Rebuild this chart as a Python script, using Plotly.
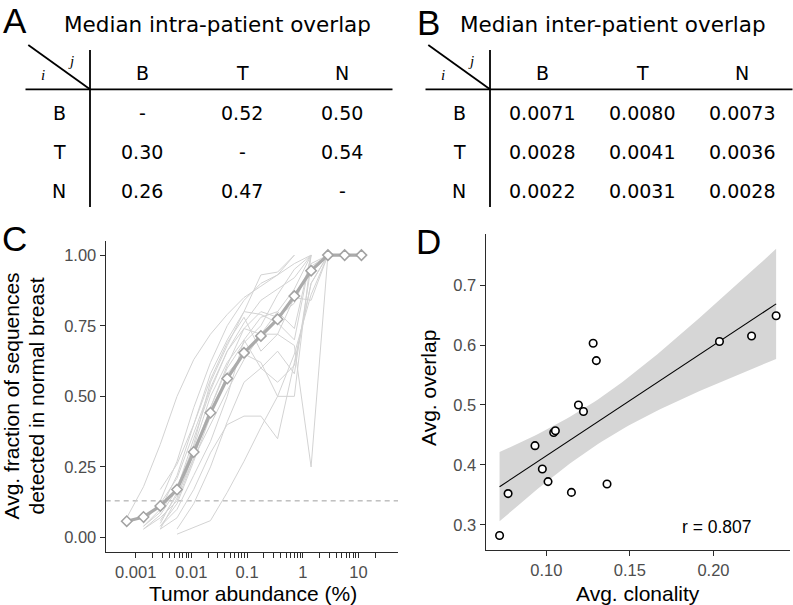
import numpy as np
import plotly.graph_objects as go

W, H = 793, 605

# ---------------- Data ----------------
# Tables A and B
tbl_rows = ["B", "T", "N"]
tbl_cols = ["B", "T", "N"]
intra_vals = [["-", "0.52", "0.50"],
              ["0.30", "-", "0.54"],
              ["0.26", "0.47", "-"]]
inter_vals = [["0.0071", "0.0080", "0.0073"],
              ["0.0028", "0.0041", "0.0036"],
              ["0.0022", "0.0031", "0.0028"]]
title_A = "Median intra-patient overlap"
title_B = "Median inter-patient overlap"

# Panel C: tumor abundance bins (%) and fractions
abund_bins = [0.00069, 0.00138, 0.00276, 0.00552, 0.011, 0.022, 0.044, 0.088,
              0.177, 0.353, 0.706, 1.41, 2.83, 5.65, 11.3]
mean_frac = [0.058, 0.073, 0.112, 0.170, 0.303, 0.442, 0.563, 0.654,
             0.714, 0.773, 0.855, 0.945, 1.0, 1.0, 1.0]
N = None
patient_frac = [
    [0.07, 0.18, 0.33, 0.50, 0.63, 0.72, 0.79, 0.85, 0.89, 0.93, 0.97, 1.0],
    [N, 0.05, 0.13, 0.27, 0.46, 0.62, 0.75, 0.84, 0.90, 0.93, 1.0],
    [N, 0.04, 0.10, 0.22, 0.40, 0.58, 0.70, 0.80, 0.93, 0.94, 1.0],
    [N, 0.03, 0.08, 0.17, 0.35, 0.52, 0.66, 0.76, 0.84, 0.88, 0.92, 1.0],
    [N, 0.04, 0.09, 0.18, 0.32, 0.50, 0.62, 0.70, 0.78, 0.80, 0.74, 1.0],
    [N, N, 0.03, 0.14, 0.30, 0.46, 0.61, 0.74, 0.80, 0.78, 0.83, 0.97, 1.0],
    [N, N, 0.05, 0.16, 0.33, 0.55, 0.68, 0.80, 0.79, 0.76, 0.70, 1.0],
    [N, N, 0.04, 0.12, 0.27, 0.43, 0.58, 0.65, 0.62, 0.50, 0.50, 1.0],
    [N, N, 0.06, 0.15, 0.28, 0.40, 0.52, 0.63, 0.72, 0.72, 0.68, 0.25, 1.0],
    [N, N, 0.03, 0.07, 0.17, 0.30, 0.40, 0.43, 0.43, 0.35, 0.62, 0.90, 1.0],
    [N, N, N, 0.012, 0.035, 0.06, 0.16, 0.27, 0.39, 0.50, 0.65, 0.86, 1.0],
    [N, N, 0.04, 0.10, 0.22, 0.34, 0.50, 0.70, 0.60, 0.55, 0.61, 0.90, 1.0],
    [N, 0.03, 0.07, 0.13, 0.28, 0.46, 0.60, 0.69, 0.75, 0.86, 0.95, 1.0],
    [N, N, 0.17, 0.26, 0.40, 0.56, 0.69, 0.78, 0.66, 0.72, 0.85, 0.84, 1.0],
    [N, N, N, 0.03, 0.12, 0.25, 0.41, 0.55, 0.60, 0.66, 0.58, 0.96, 1.0],
    [N, 0.06, 0.12, 0.21, 0.37, 0.53, 0.66, 0.74, 0.72, 0.80, 0.88, 1.0],
]
threshold = 0.13
c_major_ticks = [0.001, 0.01, 0.1, 1, 10]
c_major_labels = ["0.001", "0.01", "0.1", "1", "10"]
c_y_ticks = [0, 0.25, 0.5, 0.75, 1.0]
c_y_labels = ["0.00", "0.25", "0.50", "0.75", "1.00"]

# Panel D: clonality vs overlap
clonality = [0.0720, 0.0771, 0.0932, 0.0976, 0.1010, 0.1044, 0.1054, 0.1150,
             0.1192, 0.1222, 0.1280, 0.1299, 0.1363, 0.2036, 0.2228, 0.2375]
overlap = [0.282, 0.352, 0.432, 0.393, 0.372, 0.454, 0.457, 0.354,
           0.500, 0.489, 0.603, 0.574, 0.368, 0.606, 0.615, 0.649]
r_label = "r = 0.807"
d_x_ticks = [0.10, 0.15, 0.20]
d_x_labels = ["0.10", "0.15", "0.20"]
d_y_ticks = [0.3, 0.4, 0.5, 0.6, 0.7]
d_y_labels = ["0.3", "0.4", "0.5", "0.6", "0.7"]

# ---------------- Helpers ----------------
def px(x):
    return x / W


def py(y):
    return 1 - y / H


TFONT = "DejaVu Sans"
AFONT = "Liberation Sans, Arial, Helvetica"

fig = go.Figure()

# ---------------- Panel C ----------------
for series in patient_frac:
    fig.add_trace(go.Scatter(
        x=abund_bins[:len(series)], y=series, mode="lines",
        line=dict(color="#d3d3d3", width=1), connectgaps=False,
        hoverinfo="skip", showlegend=False, xaxis="x", yaxis="y"))

fig.add_trace(go.Scatter(
    x=abund_bins, y=mean_frac, mode="lines+markers",
    line=dict(color="#ababab", width=3.2),
    marker=dict(symbol="diamond", size=8, color="white",
                line=dict(color="#a3a3a3", width=1.5)),
    showlegend=False, xaxis="x", yaxis="y"))

# ---------------- Panel D ----------------
xs = np.array(clonality)
ys = np.array(overlap)
n = len(xs)
slope, intercept = np.polyfit(xs, ys, 1)
resid = ys - (slope * xs + intercept)
s = np.sqrt(np.sum(resid ** 2) / (n - 2))
sxx = np.sum((xs - xs.mean()) ** 2)
tcrit = 2.145  # t(0.975, df=14)
grid = np.linspace(xs.min(), xs.max(), 80)
fit = slope * grid + intercept
se = s * np.sqrt(1.0 / n + (grid - xs.mean()) ** 2 / sxx)
upper = fit + tcrit * se
lower = fit - tcrit * se

fig.add_trace(go.Scatter(
    x=np.concatenate([grid, grid[::-1]]), y=np.concatenate([upper, lower[::-1]]),
    fill="toself", fillcolor="#d6d6d6", line=dict(width=0), mode="lines",
    hoverinfo="skip", showlegend=False, xaxis="x2", yaxis="y2"))
fig.add_trace(go.Scatter(
    x=grid, y=fit, mode="lines", line=dict(color="black", width=1.1),
    showlegend=False, xaxis="x2", yaxis="y2"))
fig.add_trace(go.Scatter(
    x=clonality, y=overlap, mode="markers",
    marker=dict(symbol="circle", size=7.5, color="white",
                line=dict(color="black", width=1.6)),
    showlegend=False, xaxis="x2", yaxis="y2"))

# ---------------- Axes ----------------
c_ticks = []
for k in range(-3, 2):
    for m in range(1, 10):
        v = m * 10.0 ** k
        if v <= 20.0001:
            c_ticks.append(v)
c_ticktext = []
for v in c_ticks:
    lab = ""
    for mv, ml in zip(c_major_ticks, c_major_labels):
        if abs(v - mv) / mv < 1e-6:
            lab = ml
    c_ticktext.append(lab)

axis_common = dict(showgrid=False, zeroline=False, showline=True,
                   linecolor="#2b2b2b", linewidth=1.3, ticks="outside",
                   ticklen=5, tickwidth=1.1, tickcolor="#2b2b2b",
                   tickfont=dict(family=AFONT, size=16.5, color="#4d4d4d"))

c_top, c_bot = 241, 551.7
d_top, d_bot = 233.5, 550

fig.update_layout(
    width=W, height=H, margin=dict(l=0, r=0, t=0, b=0),
    paper_bgcolor="white", plot_bgcolor="white", showlegend=False,
    xaxis=dict(domain=[px(105.7), px(398)], anchor="y", type="log",
               range=[-3.539, 1.71], tickmode="array", tickvals=c_ticks,
               ticktext=c_ticktext, **axis_common),
    yaxis=dict(domain=[py(c_bot), py(c_top)], anchor="x",
               range=[-0.05, 1.05], tickmode="array", tickvals=c_y_ticks,
               ticktext=c_y_labels, **axis_common),
    xaxis2=dict(domain=[px(485.7), px(790)], anchor="y2",
                range=[0.0637, 0.2458], tickmode="array", tickvals=d_x_ticks,
                ticktext=d_x_labels, **axis_common),
    yaxis2=dict(domain=[py(d_bot), py(d_top)], anchor="x2",
                range=[0.2578, 0.7862], tickmode="array", tickvals=d_y_ticks,
                ticktext=d_y_labels, **axis_common),
)

# ---------------- Shapes (dashed threshold + tables) ----------------
shapes = [dict(type="line", xref="x domain", x0=0, x1=1, yref="y",
               y0=threshold, y1=threshold,
               line=dict(color="#9e9e9e", width=1, dash="5px,4px"),
               layer="below")]

annotations = []


def ann(text, x, y, size, family, color="black", **kw):
    d = dict(text=text, x=px(x), y=py(y), xref="paper", yref="paper",
             showarrow=False, font=dict(size=size, family=family, color=color),
             xanchor="center", yanchor="middle")
    d.update(kw)
    annotations.append(d)


col_x = [142, 242, 342]
row_y = [112.7, 151.7, 190.7]
header_y = 73.3
row_lab_x = 59.3

for off, vals, title, plabel, py_lab in [(0, intra_vals, title_A, "A", 21),
                                          (400, inter_vals, title_B, "B", 23)]:
    # lines
    shapes.append(dict(type="line", xref="paper", yref="paper",
                       x0=px(off + 28.3), y0=py(45), x1=px(off + 90), y1=py(89.3),
                       line=dict(color="black", width=1.8)))
    shapes.append(dict(type="line", xref="paper", yref="paper",
                       x0=px(off + 90), y0=py(50), x1=px(off + 90), y1=py(207),
                       line=dict(color="black", width=1.8)))
    shapes.append(dict(type="line", xref="paper", yref="paper",
                       x0=px(off + 25.5), y0=py(89.3), x1=px(min(off + 392.5, W)), y1=py(89.3),
                       line=dict(color="black", width=1.8)))
    # italic i / j
    ann("<i>j</i>", off + 71, 61, 15, "Liberation Serif, Times New Roman, serif")
    ann("<i>i</i>", off + 43, 75, 15, "Liberation Serif, Times New Roman, serif")
    # headers
    for cx, lab in zip(col_x, tbl_cols):
        ann(lab, off + cx, header_y, 19, TFONT)
    for ry, lab in zip(row_y, tbl_rows):
        ann(lab, off + row_lab_x, ry, 19, TFONT)
    for ri, ry in enumerate(row_y):
        for ci, cx in enumerate(col_x):
            ann(vals[ri][ci], off + cx, ry, 19, TFONT)
    # title
    tcx = 217.5 if off == 0 else 613
    ann(title, tcx, 25, 21.5, TFONT)
    ann(plabel, off + (15 if off == 0 else 28), py_lab, 35, AFONT)

# panel labels C, D
ann("C", 14, 238, 35, AFONT)
ann("D", 428, 241.5, 35, AFONT)

# axis titles
ann("Avg. fraction of sequences", 10.5, 396, 21, AFONT, textangle=-90)
ann("detected in normal breast", 35.5, 396, 21, AFONT, textangle=-90)
ann("Tumor abundance (%)", 253, 593, 21, AFONT)
ann("Avg. overlap", 429, 388, 21, AFONT, textangle=-90)
ann("Avg. clonality", 638, 593, 21, AFONT)
ann(r_label, 716.5, 527, 17.5, AFONT)

fig.update_layout(shapes=shapes, annotations=annotations)

fig.write_html(
    "out.html",
    config={"displayModeBar": False},
    post_script="document.body.style.margin='0';document.body.style.overflow='hidden';",
)
